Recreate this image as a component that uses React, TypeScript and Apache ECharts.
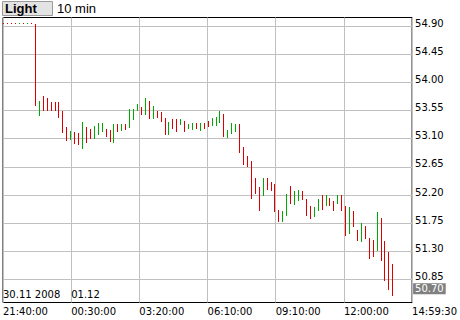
import React, { useEffect, useRef } from "react";
import * as echarts from "echarts";

// ---- data (10-minute bars, 21:40 30.11.2008 onward) ----
const barHigh = [
  54.945, 54.945, 54.945, 54.945, 54.95, 54.945, 54.95, 54.945, 54.94, 53.71,
  53.78, 53.76, 53.68, 53.68, 53.68, 53.54, 53.28, 53.23, 53.2, 53.19,
  53.37, 53.28, 53.26, 53.3, 53.35, 53.35, 53.26, 53.24, 53.33, 53.34,
  53.34, 53.34, 53.57, 53.57, 53.66, 53.6, 53.76, 53.71, 53.62, 53.55,
  53.52, 53.43, 53.36, 53.41, 53.42, 53.42, 53.39, 53.33, 53.35, 53.35,
  53.35, 53.35, 53.39, 53.44, 53.45, 53.55, 53.5, 53.24, 53.35, 53.34,
  53.33, 52.97, 52.82, 52.74, 52.47, 52.32, 52.48, 52.48, 52.4, 52.37,
  51.96, 51.94, 52.22, 52.34, 52.27, 52.28, 52.27, 52.14, 52.02, 52.0,
  52.14, 52.2, 52.2, 52.15, 52.11, 52.2, 52.2, 52.02, 52.01, 51.94,
  51.64, 51.75, 51.7, 51.51, 51.48, 51.92, 51.83, 51.46, 51.29, 51.1,
];
const barLow = [
  54.935, 54.935, 54.935, 54.935, 54.93, 54.935, 54.93, 54.935, 53.62, 53.46,
  53.54, 53.54, 53.54, 53.54, 53.43, 53.19, 53.06, 53.08, 53.02, 53.0,
  52.93, 53.03, 53.09, 53.1, 53.16, 53.21, 53.13, 53.04, 53.03, 53.21,
  53.22, 53.24, 53.27, 53.4, 53.54, 53.48, 53.48, 53.41, 53.41, 53.44,
  53.36, 53.16, 53.16, 53.26, 53.21, 53.32, 53.2, 53.25, 53.24, 53.25,
  53.22, 53.26, 53.28, 53.31, 53.31, 53.35, 53.13, 53.11, 53.18, 53.2,
  52.87, 52.68, 52.65, 52.14, 52.22, 51.94, 52.19, 52.28, 52.26, 51.92,
  51.77, 51.77, 51.86, 52.06, 52.04, 52.1, 52.12, 51.87, 51.81, 51.84,
  51.94, 51.96, 52.02, 52.03, 51.95, 52.05, 51.95, 51.54, 51.58, 51.68,
  51.47, 51.45, 51.5, 51.18, 51.21, 51.31, 51.15, 50.83, 50.68, 50.58,
];
// 1 = rising bar (green), 0 = falling bar (red)
const barUp = [
  0, 0, 0, 0, 1, 0, 1, 0, 0, 1,
  0, 0, 0, 0, 0, 0, 0, 1, 0, 0,
  1, 0, 0, 1, 1, 1, 0, 0, 1, 0,
  1, 0, 1, 1, 1, 0, 1, 0, 1, 0,
  0, 0, 1, 0, 0, 1, 0, 1, 1, 0,
  1, 0, 0, 1, 1, 1, 0, 1, 1, 1,
  0, 0, 0, 0, 0, 0, 1, 0, 0, 0,
  0, 1, 1, 0, 1, 1, 0, 0, 0, 1,
  1, 0, 1, 0, 0, 1, 0, 0, 1, 0,
  0, 1, 0, 0, 0, 1, 0, 0, 0, 0,
];
const xTickLabels = ["21:40:00", "00:30:00", "03:20:00", "06:10:00", "09:10:00", "12:00:00", "14:59:30"];
const dateLabels = ["30.11 2008", "01.12"];
const yTicks = [50.85, 51.3, 51.75, 52.2, 52.65, 53.1, 53.55, 54.0, 54.45, 54.9];
const lastPrice = 50.7;
const styleName = "Light";
const periodName = "10 min";

// ---- axis settings ----
const X_STEP = 17.36; // bars between vertical grid lines
const X_OFFSET = 0.25; // first bar sits a quarter bar inside the frame
const X_MAX = X_STEP * 6;
const Y_MIN = 50.48;
const Y_MAX = 55.04;

const RED = "#dd0000";
const GREEN = "#00a800";
const AXIS_FONT = "DejaVu Sans";
const HEAD_FONT = "Liberation Sans";

export default function App() {
  const ref = useRef<HTMLDivElement>(null);

  useEffect(() => {
    if (!ref.current) return;
    const chart = echarts.init(ref.current, undefined, { renderer: "svg" });
    const data = barHigh.map((h, i) => [i + X_OFFSET, barLow[i], h, barUp[i]]);

    chart.setOption({
      animation: false,
      backgroundColor: "#ffffff",
      grid: {
        left: 2.5,
        right: 43.5,
        top: 17.5,
        bottom: 17.5,
        show: true,
        borderColor: "#000000",
        borderWidth: 1,
        backgroundColor: "transparent",
      },
      xAxis: [
        {
          type: "value",
          min: 0,
          max: X_MAX,
          interval: X_STEP,
          axisLine: { show: false },
          axisTick: { show: false },
          splitLine: { show: true, lineStyle: { color: "#c0c0c0", width: 1 } },
          axisLabel: {
            show: true,
            align: "left",
            margin: 4,
            color: "#000",
            fontSize: 10,
            fontFamily: AXIS_FONT,
            showMinLabel: true,
            showMaxLabel: true,
            formatter: (v: number) => xTickLabels[Math.round(v / X_STEP)] ?? "",
          },
        },
        {
          type: "value",
          min: 0,
          max: X_MAX,
          interval: X_STEP,
          position: "bottom",
          offset: 0,
          axisLine: { show: false },
          axisTick: { show: false },
          splitLine: { show: false },
          axisLabel: {
            show: true,
            inside: true,
            align: "left",
            margin: 3,
            color: "#000",
            fontSize: 10,
            fontFamily: AXIS_FONT,
            formatter: (v: number) => dateLabels[Math.round(v / X_STEP)] ?? "",
          },
        },
      ],
      yAxis: {
        type: "value",
        position: "right",
        min: Y_MIN,
        max: Y_MAX,
        axisLine: { show: false },
        axisTick: { show: false, customValues: yTicks },
        splitLine: { show: true, lineStyle: { color: "#c0c0c0", width: 1 } },
        axisLabel: {
          customValues: yTicks,
          margin: 3,
          color: "#000",
          fontSize: 10,
          lineHeight: 6,
          verticalAlign: "bottom",
          fontFamily: AXIS_FONT,
          formatter: (v: number) => v.toFixed(2),
        },
      },
      graphic: [
        {
          type: "rect",
          shape: { x: 2.5, y: 1.5, width: 50, height: 14 },
          style: { fill: "#e3e3e3", stroke: "#9a9a9a", lineWidth: 1 },
        },
        {
          type: "text",
          x: 5,
          y: 8.5,
          style: {
            text: styleName,
            font: `bold 13px "${HEAD_FONT}"`,
            fill: "#000",
            verticalAlign: "middle",
          },
        },
        {
          type: "text",
          x: 57,
          y: 8.5,
          style: {
            text: periodName,
            font: `13px "${HEAD_FONT}"`,
            fill: "#000",
            verticalAlign: "middle",
          },
        },
      ],
      series: [
        {
          type: "custom",
          xAxisIndex: 0,
          yAxisIndex: 0,
          data,
          encode: { x: 0, y: [1, 2] },
          renderItem: (params: any, api: any) => {
            const x = api.value(0);
            const hi = api.coord([x, api.value(2)]);
            const lo = api.coord([x, api.value(1)]);
            const px = Math.floor(hi[0]);
            const top = Math.round(hi[1]);
            const h = Math.max(1, Math.round(lo[1]) - top);
            return {
              type: "rect",
              shape: { x: px, y: top, width: 1, height: h },
              style: { fill: api.value(3) ? GREEN : RED },
            };
          },
          markLine: {
            silent: true,
            symbol: "none",
            animation: false,
            lineStyle: { width: 0, color: "rgba(0,0,0,0)" },
            label: {
              show: true,
              position: "end",
              distance: 1,
              formatter: () => lastPrice.toFixed(2),
              backgroundColor: "#808080",
              color: "#ffffff",
              padding: [0, 2, 0, 2],
              lineHeight: 11,
              fontSize: 10,
              fontFamily: AXIS_FONT,
            },
            data: [{ yAxis: lastPrice }],
          },
        },
      ],
    });

    return () => chart.dispose();
  }, []);

  return (
    <div
      ref={ref}
      style={{ position: "absolute", left: 0, top: 0, width: 460, height: 320, background: "#fff" }}
    />
  );
}
